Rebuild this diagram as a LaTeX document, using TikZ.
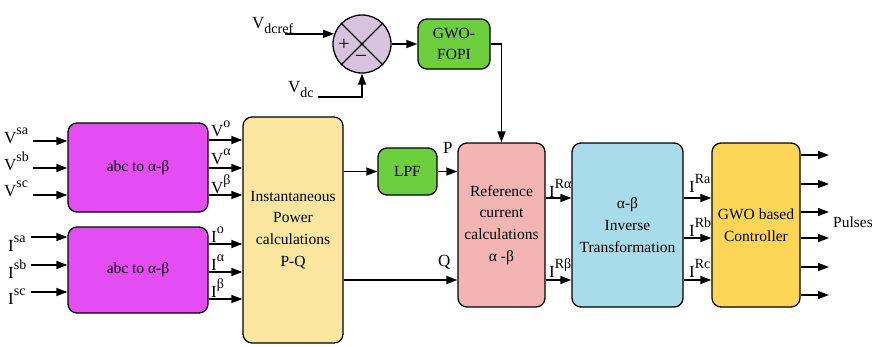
\documentclass[tikz,border=0pt]{standalone}
\usepackage{fontspec}
\setmainfont{Liberation Serif}
\usetikzlibrary{arrows.meta}
\definecolor{mag}{HTML}{E44CF4}
\definecolor{pqy}{HTML}{FDE6A0}
\definecolor{grn}{HTML}{6ECF3E}
\definecolor{pnk}{HTML}{F3B5B3}
\definecolor{blu}{HTML}{A8DCEA}
\definecolor{gld}{HTML}{FDD557}
\definecolor{lav}{HTML}{D8C3DE}
\newcommand{\supx}[1]{\raisebox{9pt}{\fontsize{14}{14}\selectfont #1}}
\newcommand{\subx}[1]{\raisebox{-5pt}{\fontsize{14}{14}\selectfont #1}}
\tikzset{
  blk/.style={draw=black, line width=1.3pt, rounded corners=9pt, align=center, inner sep=0pt,
    font=\fontsize{15.5}{21.7}\selectfont},
  arr/.style={-{Triangle[length=11pt,width=8pt]}, line width=1.3pt},
  ln/.style={line width=1.3pt},
  lbl/.style={inner sep=0pt, anchor=base west, font=\fontsize{17}{17}\selectfont},
}
\begin{document}
\begin{tikzpicture}[x=1pt,y=-1pt]
\useasboundingbox (0,0) rectangle (872,346);
% boxes
\node[blk, fill=mag, minimum width=140pt, minimum height=89pt] (abc1) at (138,167.5) {abc to α-β};
\node[blk, fill=mag, minimum width=140pt, minimum height=86pt] (abc2) at (138,270) {abc to α-β};
\node[blk, fill=pqy, minimum width=100pt, minimum height=226pt] (pq) at (293,230) {Instantaneous\\Power\\calculations\\P-Q};
\node[blk, fill=grn, minimum width=59pt, minimum height=47pt] (lpf) at (407.5,171.5) {LPF};
\node[blk, fill=pnk, minimum width=87pt, minimum height=164pt] (ref) at (501.5,225) {Reference\\current\\calculations\\α -β};
\node[blk, fill=blu, minimum width=111pt, minimum height=164pt] (inv) at (627.5,225) {α-β\\Inverse\\Transformation};
\node[blk, fill=gld, minimum width=88pt, minimum height=164pt] (gwo) at (756,225) {GWO based\\Controller};
\node[blk, fill=grn, minimum width=72pt, minimum height=50pt] (fopi) at (454,44) {GWO-\\FOPI};
\node[circle, draw, fill=lav, minimum size=58pt, inner sep=0pt, line width=1.3pt] (sum) at (362,44) {};
\draw[ln] (sum.north west) -- (sum.south east);
\draw[ln] (sum.north east) -- (sum.south west);
\node[inner sep=0pt, font=\fontsize{20}{20}\selectfont] (plus) at (344,45) {+};
\node[inner sep=0pt, font=\fontsize{20}{20}\selectfont] (minus) at (361,58) {–};
% summing junction inputs
\coordinate (vref) at (sum.160 -| 285,0);
\node[lbl] (lvref) at (252,28) {V\subx{dcref}};
\draw[arr] (vref) -- (sum.160);
\coordinate (vdc) at (318,97);
\node[lbl] (lvdc) at (288,92) {V\subx{dc}};
\draw[arr] (vdc) -| (sum.south);
\draw[arr] (sum.east) -- (fopi.west);
\draw[arr] (fopi.east) -| (ref.north);
% inputs
\coordinate (vsa) at (33,141);
\coordinate (vsb) at (33,168);
\coordinate (vsc) at (33,195);
\coordinate (isa) at (31,237);
\coordinate (isb) at (31,265);
\coordinate (isc) at (31,292);
\node[lbl] (lvsa) at (4,143) {V\supx{sa}};
\node[lbl] (lvsb) at (4,170) {V\supx{sb}};
\node[lbl] (lvsc) at (4,196) {V\supx{sc}};
\node[lbl] (lisa) at (8,251) {I\supx{sa}};
\node[lbl] (lisb) at (8,278) {I\supx{sb}};
\node[lbl] (lisc) at (8,304) {I\supx{sc}};
\foreach \c in {vsa,vsb,vsc}{\draw[arr] (\c) -- (\c -| abc1.west);}
\foreach \c in {isa,isb,isc}{\draw[arr] (\c) -- (\c -| abc2.west);}
% abc outputs
\foreach \y in {140,168,195}{\draw[arr] (abc1.east |- 0,\y) -- (pq.west |- 0,\y);}
\foreach \y in {244,272,299}{\draw[arr] (abc2.east |- 0,\y) -- (pq.west |- 0,\y);}
\node[lbl] (lvo) at (211,136) {V\supx{o}};
\node[lbl] (lva) at (211,164) {V\supx{α}};
\node[lbl] (lvb) at (211,193) {V\supx{β}};
\node[lbl] (lio) at (211,242) {I\supx{o}};
\node[lbl] (lia) at (211,270) {I\supx{α}};
\node[lbl] (lib) at (211,297) {I\supx{β}};
% PQ outputs
\draw[arr] (pq.east |- lpf.west) -- (lpf.west);
\draw[arr] (lpf.east) -- (ref.west |- lpf.east);
\draw[arr] (pq.east |- 0,280) -- (ref.west |- 0,280);
\node[lbl] (lp) at (443,153) {P};
\node[lbl] (lq) at (438,266) {Q};
% ref outputs
\draw[arr] (ref.east |- 0,198) -- (inv.west |- 0,198);
\draw[arr] (ref.east |- 0,280) -- (inv.west |- 0,280);
\node[lbl] (lira) at (549,197) {I\supx{Rα}};
\node[lbl] (lirb) at (549,277) {I\supx{Rβ}};
% inv outputs
\foreach \y in {198,238,280}{\draw[arr] (inv.east |- 0,\y) -- (gwo.west |- 0,\y);}
\node[lbl] (lra) at (689,192) {I\supx{Ra}};
\node[lbl] (lrb) at (689,236) {I\supx{Rb}};
\node[lbl] (lrc) at (689,277) {I\supx{Rc}};
% pulses
\foreach \y/\n in {155/p1,184/p2,212/p3,238/p4,267/p5,295/p6}{
  \coordinate (\n) at (829,\y);
  \draw[arr] (gwo.east |- \n) -- (\n);}
\node[lbl, font=\fontsize{15.5}{15.5}\selectfont] (lpulses) at (833,227) {Pulses};
\end{tikzpicture}
\end{document}
